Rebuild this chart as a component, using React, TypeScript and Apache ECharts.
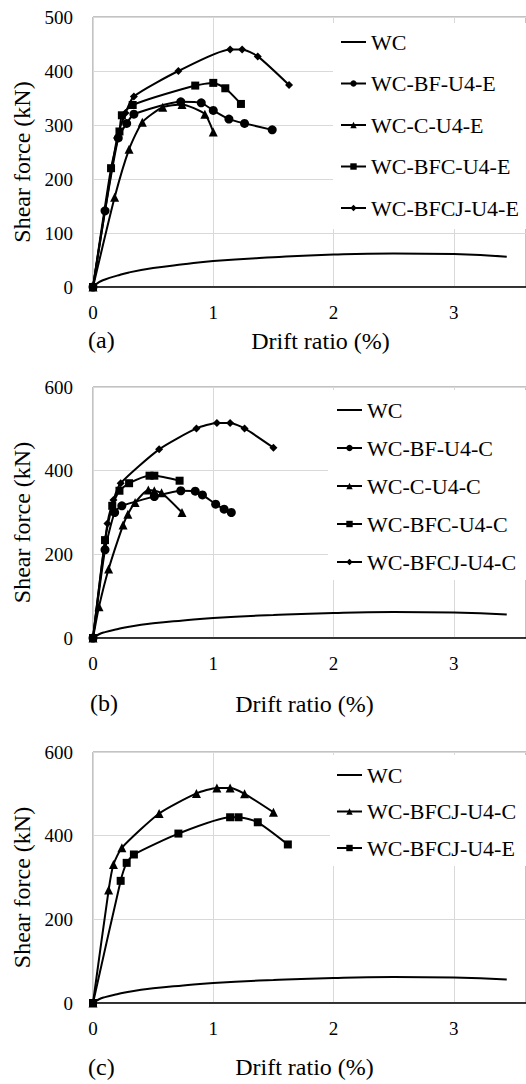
import React, { useEffect, useRef } from "react";
import * as echarts from "echarts";

// ---------- data ----------
const WC = [[0, 0], [0.05, 9], [0.1, 14], [0.2, 21], [0.3, 27], [0.5, 35], [0.75, 42], [1, 48], [1.5, 55], [2, 60], [2.5, 62], [3, 61], [3.44, 56]];

const A_BF = [[0, 0], [0.1, 141], [0.21, 276], [0.28, 303], [0.34, 320], [0.73, 343], [0.9, 341], [1.0, 327], [1.13, 311], [1.26, 303], [1.49, 291]];
const A_C = [[0, 0], [0.18, 166], [0.3, 255], [0.41, 305], [0.58, 333], [0.74, 338], [0.93, 320], [1.0, 287]];
const A_BFC = [[0, 0], [0.15, 220], [0.22, 288], [0.24, 318], [0.33, 337], [0.85, 373], [1.0, 378], [1.1, 368], [1.23, 339]];
const A_BFCJ = [[0, 0], [0.2, 276], [0.27, 322], [0.34, 353], [0.71, 400], [1.14, 440], [1.24, 440], [1.37, 427], [1.63, 374]];

const B_BF = [[0, 0], [0.1, 211], [0.18, 300], [0.24, 316], [0.51, 338], [0.73, 352], [0.85, 351], [0.91, 342], [1.02, 320], [1.09, 308], [1.15, 300]];
const B_C = [[0, 0], [0.05, 75], [0.13, 165], [0.25, 270], [0.29, 296], [0.35, 324], [0.46, 354], [0.51, 352], [0.57, 347], [0.74, 300]];
const B_BFC = [[0, 0], [0.1, 234], [0.16, 316], [0.22, 352], [0.3, 370], [0.47, 388], [0.51, 388], [0.72, 376]];
const B_BFCJ = [[0, 0], [0.12, 274], [0.17, 330], [0.23, 370], [0.55, 451], [0.86, 501], [1.03, 514], [1.14, 514], [1.26, 501], [1.5, 455]];

const C_BFCJ_C = [[0, 0], [0.13, 270], [0.17, 331], [0.24, 371], [0.55, 453], [0.86, 501], [1.03, 514], [1.14, 514], [1.26, 500], [1.5, 456]];
const C_BFCJ_E = [[0, 0], [0.23, 292], [0.28, 335], [0.34, 355], [0.71, 405], [1.14, 444], [1.21, 444], [1.37, 432], [1.62, 379]];

const NAMES_A = ["WC", "WC-BF-U4-E", "WC-C-U4-E", "WC-BFC-U4-E", "WC-BFCJ-U4-E"];
const NAMES_B = ["WC", "WC-BF-U4-C", "WC-C-U4-C", "WC-BFC-U4-C", "WC-BFCJ-U4-C"];
const NAMES_C = ["WC", "WC-BFCJ-U4-C", "WC-BFCJ-U4-E"];

const FONT = "Liberation Serif";

function lineSeries(name: string, data: number[][], symbol: string, size: number) {
  return {
    type: "line",
    name,
    data,
    symbol,
    symbolSize: size,
    showAllSymbol: true,
    smooth: symbol === "none" ? true : 0.2,
    lineStyle: { color: "#000", width: 2 },
    itemStyle: { color: "#000", borderWidth: 0 },
    emphasis: { disabled: true },
    z: 3,
  };
}

type PanelCfg = {
  gridTop: number;
  gridHeight: number;
  yMax: number;
  yInterval: number;
  names: string[];
  series: any[];
  legend: { left: number; top: number; padding: number[]; gap: number };
  xNameGap: number;
  xNamePad: number[];
  tag: string;
  tagLeft: number;
  tagTop: number;
};

function buildOption(p: PanelCfg) {
  return {
    animation: false,
    backgroundColor: "#fff",
    textStyle: { fontFamily: FONT },
    grid: {
      left: 93,
      top: p.gridTop,
      width: 444,
      height: p.gridHeight,
      show: true,
      borderColor: "#868686",
      borderWidth: 1,
      backgroundColor: "transparent",
    },
    xAxis: {
      type: "value",
      min: 0,
      max: 3.6,
      interval: 1,
      name: "Drift ratio (%)",
      nameLocation: "middle",
      nameGap: p.xNameGap,
      nameTextStyle: { fontFamily: FONT, fontSize: 24, color: "#000", padding: p.xNamePad },
      axisLine: { show: true, onZero: false, lineStyle: { color: "#000", width: 1.5 } },
      axisTick: { show: false },
      axisLabel: { fontFamily: FONT, fontSize: 19, color: "#000", margin: 16, showMaxLabel: false },
      splitLine: { show: true, lineStyle: { color: "#d9d9d9", width: 1 } },
    },
    yAxis: {
      type: "value",
      min: 0,
      max: p.yMax,
      interval: p.yInterval,
      name: "Shear force (kN)",
      nameLocation: "middle",
      nameGap: 58,
      nameTextStyle: { fontFamily: FONT, fontSize: 24, color: "#000", padding: [0, 20, 0, 0] },
      axisLine: { show: false },
      axisTick: { show: false },
      axisLabel: { fontFamily: FONT, fontSize: 19, color: "#000", margin: 20 },
      splitLine: { show: true, lineStyle: { color: "#d9d9d9", width: 1 } },
    },
    legend: {
      data: p.names.map((n) =>
        n === "WC" ? { name: n, itemStyle: { color: "rgba(0,0,0,0)", borderWidth: 0 } } : { name: n }
      ),
      orient: "vertical",
      left: p.legend.left,
      top: p.legend.top,
      padding: p.legend.padding,
      itemGap: p.legend.gap,
      itemWidth: 25,
      itemHeight: 8,
      backgroundColor: "#fff",
      selectedMode: false,
      textStyle: { fontFamily: FONT, fontSize: 22, lineHeight: 22, color: "#000" },
    },
    graphic: [
      {
        type: "text",
        left: p.tagLeft,
        top: p.tagTop,
        style: { text: p.tag, fontFamily: FONT, fontSize: 24, fill: "#000" },
      },
    ],
    series: p.series,
  };
}

const PANELS: { top: number; height: number; cfg: PanelCfg }[] = [
  {
    top: 0,
    height: 362,
    cfg: {
      gridTop: 17,
      gridHeight: 270,
      yMax: 500,
      yInterval: 100,
      names: NAMES_A,
      series: [
        lineSeries(NAMES_A[0], WC, "none", 0),
        lineSeries(NAMES_A[1], A_BF, "circle", 9),
        lineSeries(NAMES_A[2], A_C, "triangle", 9),
        lineSeries(NAMES_A[3], A_BFC, "rect", 8),
        lineSeries(NAMES_A[4], A_BFCJ, "diamond", 8),
      ],
      legend: { left: 333, top: 23, padding: [8, 10, 10, 7], gap: 19.5 },
      xNameGap: 42,
      xNamePad: [0, 0, 0, 22],
      tag: "(a)",
      tagLeft: 88,
      tagTop: 328,
    },
  },
  {
    top: 362,
    height: 360,
    cfg: {
      gridTop: 25,
      gridHeight: 251,
      yMax: 600,
      yInterval: 200,
      names: NAMES_B,
      series: [
        lineSeries(NAMES_B[0], WC, "none", 0),
        lineSeries(NAMES_B[1], B_BF, "circle", 9),
        lineSeries(NAMES_B[2], B_C, "triangle", 9),
        lineSeries(NAMES_B[3], B_BFC, "rect", 8),
        lineSeries(NAMES_B[4], B_BFCJ, "diamond", 8),
      ],
      legend: { left: 328, top: 28, padding: [9, 10, 7, 8], gap: 16 },
      xNameGap: 54,
      xNamePad: [0, 10, 0, 0],
      tag: "(b)",
      tagLeft: 90,
      tagTop: 329,
    },
  },
  {
    top: 722,
    height: 362,
    cfg: {
      gridTop: 30,
      gridHeight: 252,
      yMax: 600,
      yInterval: 200,
      names: NAMES_C,
      series: [
        lineSeries(NAMES_C[0], WC, "none", 0),
        lineSeries(NAMES_C[1], C_BFCJ_C, "triangle", 9),
        lineSeries(NAMES_C[2], C_BFCJ_E, "rect", 8),
      ],
      legend: { left: 330, top: 33, padding: [9, 10, 7, 6], gap: 14.5 },
      xNameGap: 52,
      xNamePad: [0, 10, 0, 0],
      tag: "(c)",
      tagLeft: 88,
      tagTop: 333,
    },
  },
];

function Panel({ top, height, cfg }: { top: number; height: number; cfg: PanelCfg }) {
  const ref = useRef<HTMLDivElement>(null);
  useEffect(() => {
    if (!ref.current) return;
    const chart = echarts.init(ref.current, undefined, { renderer: "svg" });
    chart.setOption(buildOption(cfg) as any);
    return () => chart.dispose();
  }, []);
  return <div ref={ref} style={{ position: "absolute", left: 0, top, width: 526, height }} />;
}

export default function App() {
  useEffect(() => {
    document.body.style.margin = "0";
  }, []);
  return (
    <div style={{ position: "relative", width: 526, height: 1084, background: "#fff", overflow: "hidden" }}>
      {PANELS.map((p, i) => (
        <Panel key={i} top={p.top} height={p.height} cfg={p.cfg} />
      ))}
    </div>
  );
}
